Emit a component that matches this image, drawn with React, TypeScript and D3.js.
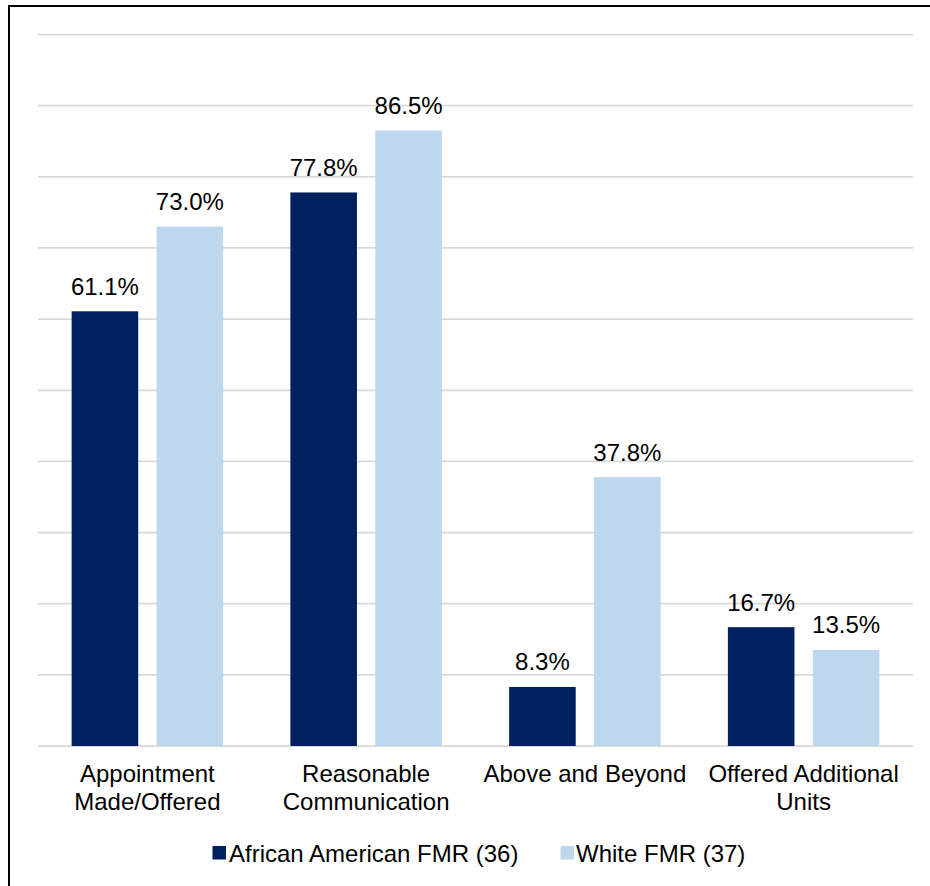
import React from "react";
import * as d3 from "d3";

const categories: string[][] = [
  ["Appointment", "Made/Offered"],
  ["Reasonable", "Communication"],
  ["Above and Beyond"],
  ["Offered Additional", "Units"],
];
const seriesNames = ["African American FMR (36)", "White FMR (37)"];
const africanAmerican = [61.1, 77.8, 8.3, 16.7];
const white = [73.0, 86.5, 37.8, 13.5];
const yTicks = [0, 10, 20, 30, 40, 50, 60, 70, 80, 90, 100];

const COLORS = ["#002060", "#BDD7EE"];
const W = 930;
const H = 886;
const FONT = "'Liberation Sans', Arial, Helvetica, sans-serif";
const FONT_SIZE = 24;

export default function App() {
  const keys = categories.map((c) => c.join(" "));
  const x = d3.scaleBand<string>().domain(keys).range([38, 913]).padding(0);
  const inner = d3
    .scaleBand<number>()
    .domain([0, 1])
    .range([0, x.bandwidth()])
    .paddingInner(0.216)
    .paddingOuter(0.396);
  const y = d3.scaleLinear().domain([0, 100]).range([746, 34.5]);
  const series = [africanAmerican, white];

  const label = (
    tx: number,
    ty: number,
    content: string,
    anchor: "middle" | "start",
    key?: string
  ) => (
    <text
      key={key}
      x={tx}
      y={ty}
      textAnchor={anchor}
      fontFamily={FONT}
      fontSize={FONT_SIZE}
      fill="#000"
    >
      {content}
    </text>
  );

  const legendItems = [
    { sq: 212.5, tx: 229 },
    { sq: 560.5, tx: 576 },
  ];

  return (
    <svg
      width={W}
      height={H}
      style={{ position: "absolute", left: 0, top: 0, background: "#fff" }}
    >
      <rect x={0} y={0} width={W} height={H} fill="#fff" />
      {/* chart frame */}
      <rect x={9} y={6} width={W + 20} height={H + 20} fill="none" stroke="#000" strokeWidth={2} />

      {/* gridlines */}
      {yTicks.map((t) => (
        <line
          key={t}
          x1={38}
          x2={913}
          y1={y(t)}
          y2={y(t)}
          stroke="#D9D9D9"
          strokeWidth={1.75}
        />
      ))}

      {/* bars and value labels */}
      {keys.map((k, ci) =>
        series.map((vals, si) => {
          const bx = (x(k) ?? 0) + (inner(si) ?? 0);
          const bw = inner.bandwidth();
          const v = vals[ci];
          return (
            <g key={`${k}-${si}`}>
              <rect x={bx} y={y(v)} width={bw} height={y(0) - y(v)} fill={COLORS[si]} />
              {label(bx + bw / 2, y(v) - 16.5, `${v.toFixed(1)}%`, "middle")}
            </g>
          );
        })
      )}

      {/* category labels */}
      {categories.map((lines, ci) => {
        const cx = (x(keys[ci]) ?? 0) + x.bandwidth() / 2;
        return (
          <g key={keys[ci]}>
            {lines.map((ln, li) => label(cx, 782 + li * 27.5, ln, "middle", `${ci}-${li}`))}
          </g>
        );
      })}

      {/* legend */}
      {seriesNames.map((name, i) => (
        <g key={name}>
          <rect x={legendItems[i].sq} y={846} width={13.5} height={13.5} fill={COLORS[i]} />
          {label(legendItems[i].tx, 862, name, "start")}
        </g>
      ))}
    </svg>
  );
}
